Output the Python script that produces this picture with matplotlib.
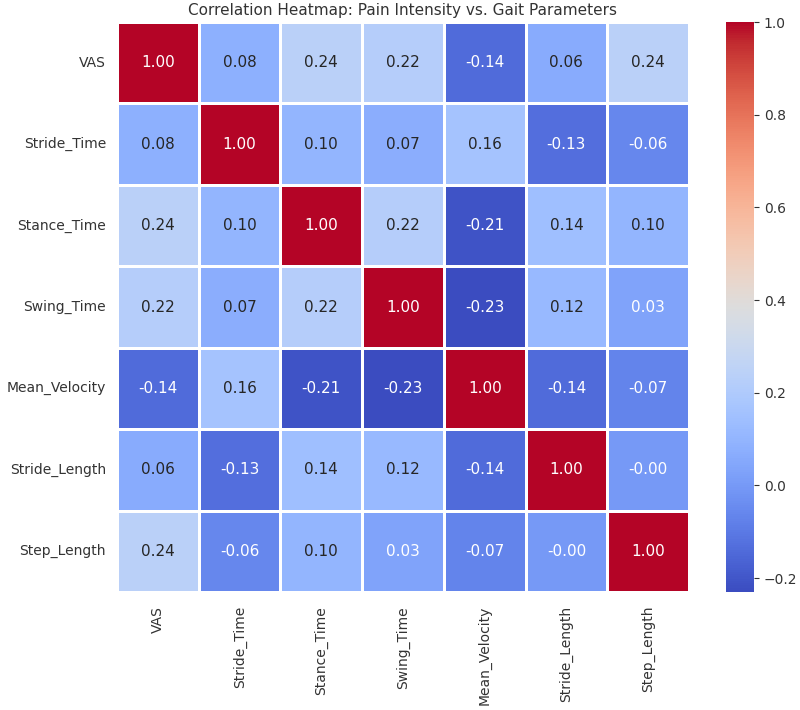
import numpy as np
import pandas as pd
import matplotlib
matplotlib.use("Agg")
import matplotlib.pyplot as plt
import seaborn as sns

labels = ["VAS", "Stride_Time", "Stance_Time", "Swing_Time",
          "Mean_Velocity", "Stride_Length", "Step_Length"]

vas = [1.00, 0.08, 0.24, 0.22, -0.14, 0.06, 0.24]
stride_time = [0.08, 1.00, 0.10, 0.07, 0.16, -0.13, -0.06]
stance_time = [0.24, 0.10, 1.00, 0.22, -0.21, 0.14, 0.10]
swing_time = [0.22, 0.07, 0.22, 1.00, -0.23, 0.12, 0.03]
mean_velocity = [-0.14, 0.16, -0.21, -0.23, 1.00, -0.14, -0.07]
stride_length = [0.06, -0.13, 0.14, 0.12, -0.14, 1.00, -0.004]
step_length = [0.24, -0.06, 0.10, 0.03, -0.07, -0.004, 1.00]

corr = pd.DataFrame([vas, stride_time, stance_time, swing_time,
                     mean_velocity, stride_length, step_length],
                    index=labels, columns=labels)

W, H = 800, 710
fig = plt.figure(figsize=(W / 100, H / 100), dpi=100)
# pixel boxes measured on the reference
ax = fig.add_axes([117 / W, 1 - 592 / H, (689 - 117) / W, (592 - 22) / H])
cax = fig.add_axes([726 / W, 1 - 592 / H, (754 - 726) / W, (592 - 22) / H])

sns.heatmap(corr, annot=True, fmt=".2f", cmap="coolwarm", linewidths=0.8,
            linecolor="white", ax=ax, cbar_ax=cax,
            annot_kws={"size": 11})

ax.set_title("Correlation Heatmap: Pain Intensity vs. Gait Parameters",
             fontsize=11, color="#333333", pad=5)
ax.tick_params(axis="both", length=0, labelsize=10, colors="#333333")
ax.tick_params(axis="y", pad=8)
ax.tick_params(axis="x", pad=10)
ax.set_xticklabels(labels, rotation=90)
ax.set_yticklabels(labels, rotation=0)
cax.tick_params(labelsize=10, colors="#333333")
cax.set_frame_on(False)

fig.savefig("out.png", dpi=100)
